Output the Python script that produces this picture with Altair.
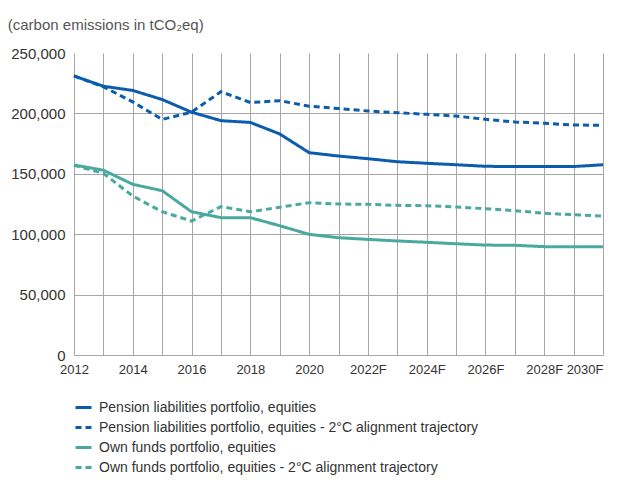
import altair as alt
import pandas as pd

years = list(range(2012, 2031))
pension = [231000, 222500, 219000, 211500, 201000, 194000, 192500, 183000, 167500,
           164700, 162500, 160000, 158700, 157500, 156200, 156000, 156000, 156000, 157500]
pension_2c = [231000, 222000, 209500, 195000, 201000, 218000, 209000, 210500, 206000,
              204000, 202000, 200600, 199200, 197800, 195100, 192900, 191800, 190400, 190100]
own = [157300, 153000, 141300, 136000, 118600, 113700, 113700, 107000, 99900,
       97100, 95700, 94400, 93300, 92100, 91000, 90800, 89700, 89700, 89700]
own_2c = [157000, 150400, 131600, 118600, 110900, 122800, 118600, 122300, 126100,
          125000, 124700, 123900, 123600, 122500, 121100, 119500, 117300, 116100, 115100]

series_names = [
    "Pension liabilities portfolio, equities",
    "Pension liabilities portfolio, equities - 2°C alignment trajectory",
    "Own funds portfolio, equities",
    "Own funds portfolio, equities - 2°C alignment trajectory",
]
series_values = [pension, pension_2c, own, own_2c]
series_colors = ["#0b5cad", "#0b5cad", "#4aa99e", "#4aa99e"]
series_dash = [[1, 0], [6, 4], [1, 0], [6, 4]]

rows = []
for name, vals in zip(series_names, series_values):
    for y, v in zip(years, vals):
        rows.append({"year": y, "value": v, "series": name})
df = pd.DataFrame(rows)

FONT = "Liberation Sans"

chart = alt.Chart(df).mark_line(strokeWidth=3).encode(
    x=alt.X("year:Q",
            scale=alt.Scale(domain=[2012, 2030], nice=False, zero=False),
            axis=alt.Axis(values=years, title=None, grid=True, ticks=False, domain=False,
                          labelExpr="datum.value % 2 == 1 ? '' : (datum.value >= 2022 ? datum.value + 'F' : '' + datum.value)",
                          labelFontSize=13, labelColor="#333333", labelPadding=8,
                          labelOverlap=False, labelFlush=False,
                          labelAlign=alt.ExprRef("datum.value == 2030 ? 'right' : 'center'"),
                          gridColor="#a6a6a6", gridWidth=1, labelFont=FONT)),
    y=alt.Y("value:Q",
            scale=alt.Scale(domain=[0, 250000], nice=False),
            axis=alt.Axis(values=[0, 50000, 100000, 150000, 200000, 250000], format=",d",
                          title=None, ticks=False, domain=False, labelFontSize=15,
                          labelColor="#333333", labelPadding=9, labelFont=FONT,
                          gridColor="#a6a6a6", gridWidth=1,
                          gridOpacity=alt.ExprRef("datum.value == 250000 ? 0 : 1"))),
    color=alt.Color("series:N", scale=alt.Scale(domain=series_names, range=series_colors),
                    legend=alt.Legend(title=None, orient="none", legendX=0, legendY=345,
                                      direction="vertical", symbolType="stroke",
                                      symbolSize=256, symbolStrokeWidth=3,
                                      labelFontSize=14, labelFont=FONT, labelColor="#333333",
                                      labelOffset=6, rowPadding=3, labelLimit=600)),
    strokeDash=alt.StrokeDash("series:N", scale=alt.Scale(domain=series_names, range=series_dash),
                              legend=None),
).properties(
    width=529, height=302,
    title=alt.TitleParams("(carbon emissions in tCO₂eq)", anchor="start", dx=-3, offset=13,
                          fontSize=15, fontWeight="normal", color="#555555", font=FONT),
    padding={"left": 66, "top": 45, "right": 8, "bottom": 123},
    autosize="none",
).configure_view(stroke=None)

chart.save("out.html", embed_options={"renderer": "svg", "actions": False})
